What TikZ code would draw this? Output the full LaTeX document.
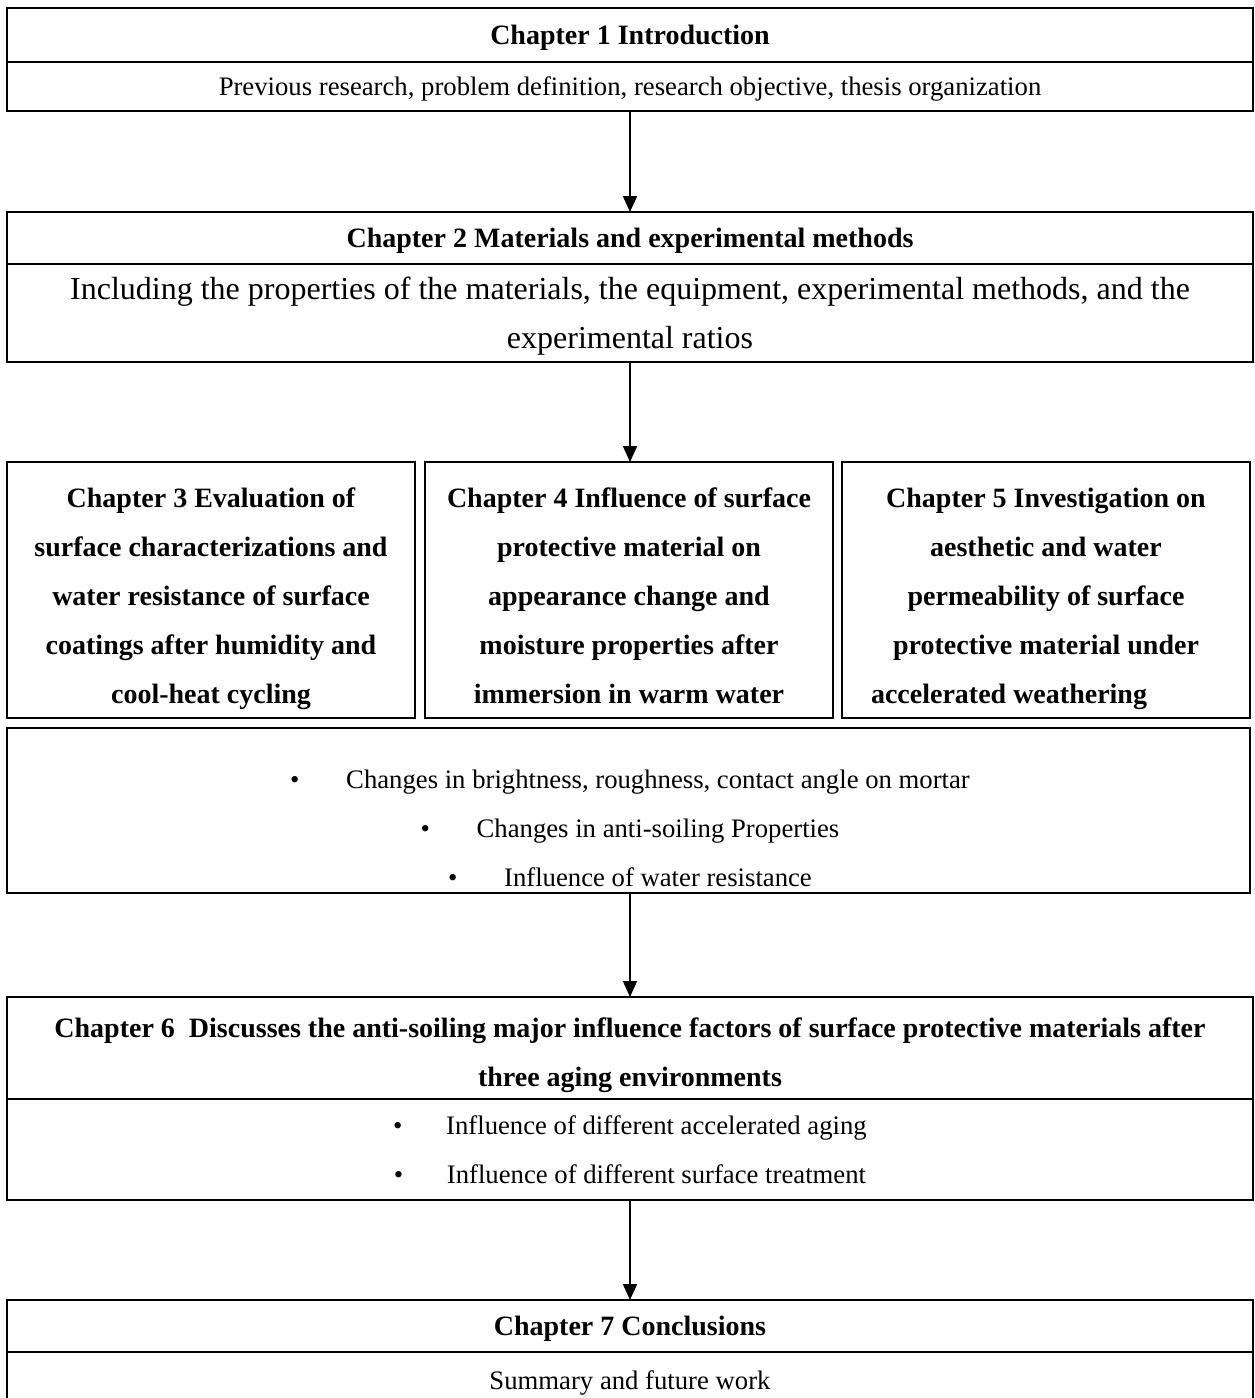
\documentclass[tikz,border=0pt]{standalone}
\usepackage{fontspec}
\setmainfont{Liberation Serif}
\usepackage{tikz}
\usetikzlibrary{arrows.meta,positioning}
\definecolor{ink}{HTML}{000000}
\tikzset{
  boxline/.style={draw=ink,line width=2.4pt,inner sep=0pt,outer sep=0pt,
                  align=center},
  headbox/.style={boxline,minimum width=1246pt,text depth=0pt,
                  font=\fontsize{28}{49}\selectfont\bfseries},
  bodybox/.style={boxline,minimum width=1246pt,text depth=0pt,
                  font=\fontsize{26.7}{49}\selectfont},
  chapbox/.style={boxline,minimum width=408pt,minimum height=256pt},
  chaptext/.style={align=center,inner sep=0pt,text depth=0pt,
                   font=\fontsize{28}{49}\selectfont\bfseries},
  listtext/.style={align=center,inner sep=0pt,
                   font=\fontsize{26.7}{49}\selectfont},
  flowarr/.style={-{Triangle[length=16pt,width=14pt]},line width=1.8pt,
                  draw=ink}
}
\newcommand{\itembul}[2][53pt]{\makebox[#1][l]{\textbullet}#2}

\begin{document}
\begin{tikzpicture}[x=1pt,y=-1pt]
    \path[use as bounding box] (0,0) rectangle (1255,1398);

    % chapter 1
    \node[headbox,minimum height=54pt] (h1) at (630,35)
      {Chapter 1 Introduction};
    \node[bodybox,minimum height=49pt] (b1) at (630,86.5)
      {Previous research, problem definition, research objective, thesis organization};

    % chapter 2
    \node[headbox,minimum height=52pt] (h2) at (630,238)
      {Chapter 2 Materials and experimental methods};
    \node[bodybox,minimum height=98pt,font=\fontsize{32}{49}\selectfont]
      (b2) at (630,313)
      {Including the properties of the materials, the equipment, experimental methods, and the\\
       experimental ratios};

    % chapters 3 to 5
    \node[chapbox] (c3) at (211,590) {};
    \node[chapbox] (c4) at (629,590) {};
    \node[chapbox] (c5) at (1046,590) {};
    \node[chaptext] (c3t) at (211,596)
      {Chapter 3 Evaluation of\\surface characterizations and\\
       water resistance of surface\\coatings after humidity and\\
       cool-heat cycling};
    \node[chaptext] (c4t) at (629,596)
      {Chapter 4 Influence of surface\\protective material on\\
       appearance change and\\moisture properties after\\
       immersion in warm water};
    \node[chaptext] (c5t) at (1046,596)
      {Chapter 5 Investigation on\\aesthetic and water\\
       permeability of surface\\protective material under\\
       accelerated weathering\makebox[74pt]{}};

    % shared results
    \node[boxline,minimum width=1243pt,minimum height=165pt] (res) at (628.5,810.5) {};
    \node[listtext] (rest) at (630,828)
      {\itembul[56pt]{Changes in brightness, roughness, contact angle on mortar}\\
       \itembul[56pt]{Changes in anti-soiling Properties}\\
       \itembul[56pt]{Influence of water resistance}};

    % chapter 6
    \node[headbox,minimum height=102pt,text height=76pt] (h6) at (630,1048)
      {Chapter 6\ \ Discusses the anti-soiling major influence factors of surface protective materials after\\
       three aging environments};
    \node[bodybox,minimum height=101pt] (b6) at (630,1149.5)
      {\itembul{Influence of different accelerated aging}\\
       \itembul{Influence of different surface treatment}};

    % chapter 7
    \node[headbox,minimum height=52pt] (h7) at (630,1326)
      {Chapter 7 Conclusions};
    \node[bodybox,minimum height=56pt] (b7) at (630,1380)
      {Summary and future work};

    \draw[flowarr] (b1.south) -- (h2.north);
    \draw[flowarr] (b2.south) -- (b2.south |- c4.north);
    \draw[flowarr] (h6.north |- res.south) -- (h6.north);
    \draw[flowarr] (b6.south) -- (h7.north);
  \end{tikzpicture}
\end{document}
